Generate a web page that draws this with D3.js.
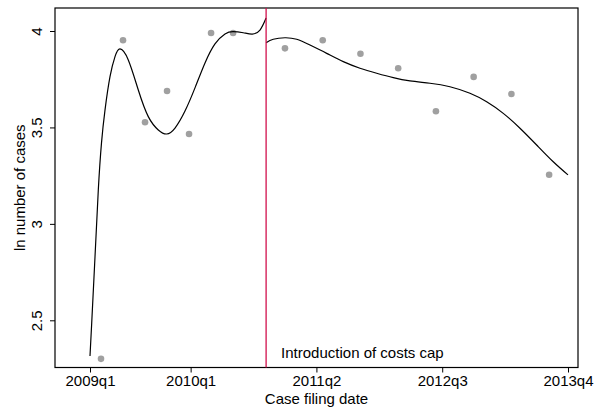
<!DOCTYPE html>
<html>
<head>
<meta charset="utf-8">
<script src="https://cdn.jsdelivr.net/npm/d3@7"></script>
<style>
  html, body { margin: 0; padding: 0; background: #fff; }
  svg { display: block; font-family: "Liberation Sans", Arial, sans-serif; }
</style>
</head>
<body>
<svg id="chart" width="601" height="412"></svg>
<script>
// Quarter index 0 = 2009q1
const tickQuarters = [0, 4, 9, 14, 19];
const tickLabels = ["2009q1", "2010q1", "2011q2", "2012q3", "2013q4"];
const yTicks = [2.5, 3, 3.5, 4];
const cutoffQuarter = 7; // 2010q4, costs cap introduced

// Binned means before the cap
const binXBefore = [0.4375, 1.3125, 2.1875, 3.0625, 3.9375, 4.8125, 5.6875];
const binYBefore = [2.300, 3.952, 3.527, 3.689, 3.466, 3.990, 3.990];
// Binned means after the cap
const binXAfter = [7.75, 9.25, 10.75, 12.25, 13.75, 15.25, 16.75, 18.25];
const binYAfter = [3.910, 3.952, 3.882, 3.807, 3.584, 3.762, 3.673, 3.255];

// Smoothed fit, pre-cap
const fitXBefore = [0, 0.068, 0.199, 0.330, 0.457, 0.596, 0.795, 0.994, 1.192, 1.522, 1.920, 2.317, 2.715, 3.048, 3.379, 3.776, 4.173, 4.571, 4.968, 5.366, 5.684, 6.093, 6.451, 6.757, 7.0];
const fitYBefore = [2.315, 2.486, 2.830, 3.176, 3.420, 3.590, 3.763, 3.867, 3.907, 3.850, 3.694, 3.556, 3.487, 3.466, 3.497, 3.585, 3.705, 3.834, 3.933, 3.985, 3.997, 3.991, 3.984, 4.005, 4.067];
// Smoothed fit, post-cap
const fitXAfter = [7.0, 7.285, 7.75, 8.215, 8.744, 9.408, 10.068, 10.731, 11.395, 12.055, 12.719, 13.514, 14.308, 15.103, 15.767, 16.427, 17.091, 17.754, 18.414, 19.0];
const fitYAfter = [3.939, 3.957, 3.965, 3.957, 3.927, 3.884, 3.841, 3.807, 3.781, 3.758, 3.741, 3.729, 3.711, 3.677, 3.633, 3.573, 3.496, 3.409, 3.322, 3.254];

const svg = d3.select("#chart");
const box = { left: 55, right: 578, top: 8, bottom: 367.5 };
const fontSize = 15;

const x = d3.scaleLinear().domain([0, 19]).range([90, 568]);
const y = d3.scaleLinear().domain([2.5, 4]).range([320.3, 31]);

// Plot region frame
svg.append("rect")
  .attr("x", box.left).attr("y", box.top)
  .attr("width", box.right - box.left).attr("height", box.bottom - box.top)
  .attr("fill", "none").attr("stroke", "#000").attr("stroke-width", 1.2);

// X axis
const xAxis = svg.append("g")
  .attr("transform", `translate(0,${box.bottom})`)
  .call(d3.axisBottom(x).tickValues(tickQuarters)
    .tickFormat((d, i) => tickLabels[i]).tickSize(5).tickPadding(3));
xAxis.select(".domain").remove();
xAxis.selectAll("line").attr("stroke", "#000");
xAxis.selectAll("text").attr("font-size", fontSize).attr("fill", "#000")
  .attr("font-family", "Liberation Sans, Arial, sans-serif");

// Y axis with rotated labels
const yAxis = svg.append("g")
  .attr("transform", `translate(${box.left},0)`)
  .call(d3.axisLeft(y).tickValues(yTicks).tickFormat(d3.format("")).tickSize(5));
yAxis.select(".domain").remove();
yAxis.selectAll("line").attr("stroke", "#000");
yAxis.selectAll("text")
  .attr("font-size", fontSize).attr("fill", "#000")
  .attr("font-family", "Liberation Sans, Arial, sans-serif")
  .attr("text-anchor", "middle")
  .attr("x", 0).attr("dy", 0)
  .attr("transform", "translate(-13,0) rotate(-90)");

// Axis titles
svg.append("text")
  .attr("x", (box.left + box.right) / 2).attr("y", 404)
  .attr("text-anchor", "middle").attr("font-size", fontSize)
  .text("Case filing date");
svg.append("text")
  .attr("transform", `translate(25,${(box.top + box.bottom) / 2}) rotate(-90)`)
  .attr("text-anchor", "middle").attr("font-size", fontSize)
  .text("ln number of cases");

// Binned scatter
const dots = binXBefore.map((d, i) => [d, binYBefore[i]])
  .concat(binXAfter.map((d, i) => [d, binYAfter[i]]));
svg.append("g").selectAll("circle").data(dots).join("circle")
  .attr("cx", d => x(d[0])).attr("cy", d => y(d[1]))
  .attr("r", 3.3).attr("fill", "#a0a0a0");

// Fitted lines
const line = d3.line().x(d => x(d[0])).y(d => y(d[1])).curve(d3.curveNatural);
[[fitXBefore, fitYBefore], [fitXAfter, fitYAfter]].forEach(([xs, ys]) => {
  svg.append("path")
    .datum(xs.map((d, i) => [d, ys[i]]))
    .attr("d", line)
    .attr("fill", "none").attr("stroke", "#000").attr("stroke-width", 1.2);
});

// Cutoff line
svg.append("line")
  .attr("x1", x(cutoffQuarter)).attr("x2", x(cutoffQuarter))
  .attr("y1", box.top).attr("y2", box.bottom)
  .attr("stroke", "#d1104c").attr("stroke-width", 1.3);

svg.append("text")
  .attr("x", x(cutoffQuarter) + 15).attr("y", 357.5)
  .attr("font-size", fontSize)
  .text("Introduction of costs cap");
</script>
</body>
</html>
